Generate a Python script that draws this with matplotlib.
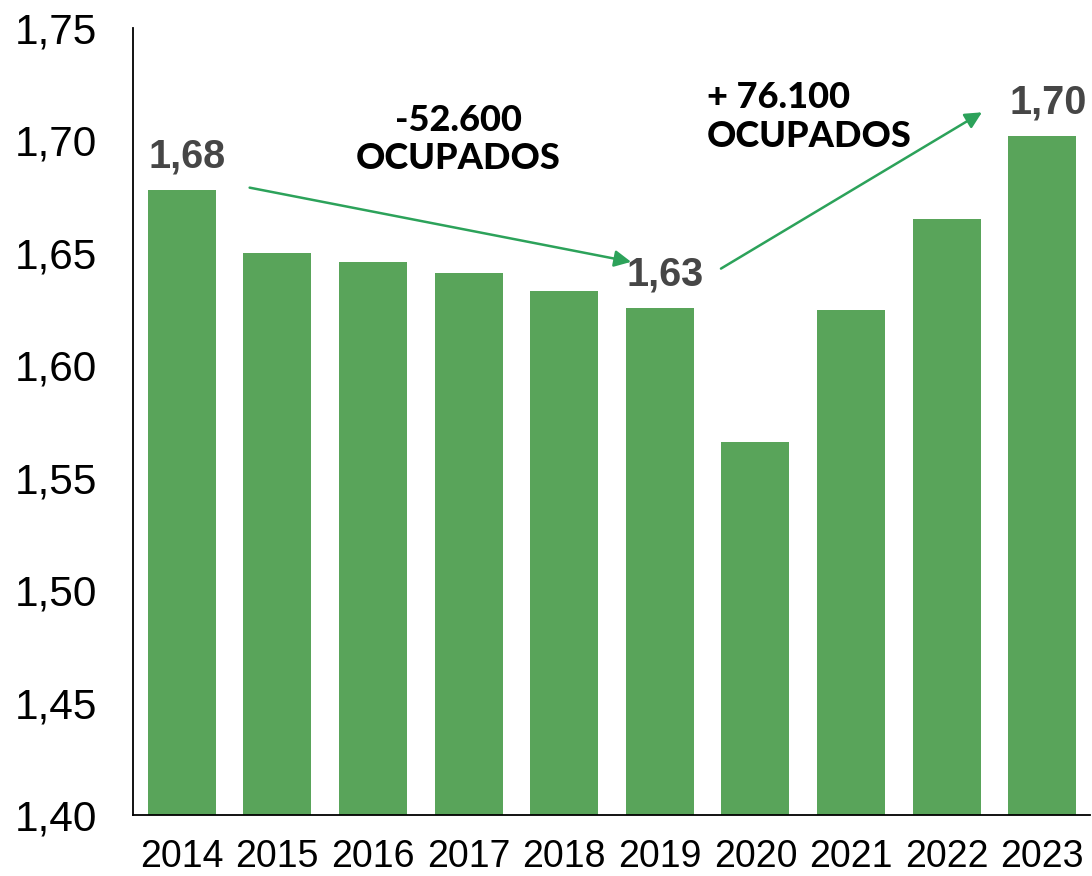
import matplotlib.pyplot as plt

# dados
anos = ['2014', '2015', '2016', '2017', '2018', '2019', '2020', '2021', '2022', '2023']
ocupados = [1.678, 1.650, 1.646, 1.641, 1.633, 1.6255, 1.566, 1.6245, 1.665, 1.702]
rotulos = {0: '1,68', 5: '1,63', 9: '1,70'}
y_ticks = [1.40, 1.45, 1.50, 1.55, 1.60, 1.65, 1.70, 1.75]

verde_barra = '#59A45A'
verde_seta = '#2CA25A'

fig = plt.figure(figsize=(10.92, 8.76), dpi=100)
ax = fig.add_axes([133 / 1092, 61 / 876, 957 / 1092, 787 / 876])

x = range(len(anos))
ax.bar(x, ocupados, width=0.71, color=verde_barra)

ax.set_ylim(1.40, 1.75)
ax.set_xlim(-0.51, 9.5)
ax.set_yticks(y_ticks)
ax.set_yticklabels([f'{v:.2f}'.replace('.', ',') for v in y_ticks],
                   fontsize=30.5, family='Liberation Sans')
ax.set_xticks(list(x))
ax.set_xticklabels(anos, fontsize=27, family='Liberation Sans')
ax.tick_params(axis='y', length=0, pad=26)
ax.tick_params(axis='x', length=0, pad=17)

for s in ['top', 'right']:
    ax.spines[s].set_visible(False)
ax.spines['left'].set_linewidth(1.3)
ax.spines['bottom'].set_linewidth(1.3)

# rótulos das barras
for i, txt in rotulos.items():
    ax.annotate(txt, (i, ocupados[i]), xytext=(4, 24), textcoords='offset points',
                ha='center', va='center', fontsize=28.5, fontweight='bold',
                color='#464646', family='Liberation Sans')

# setas
seta = dict(arrowstyle='-|>', color=verde_seta, lw=1.8, mutation_scale=25,
            shrinkA=0, shrinkB=0)
ax.annotate('', xy=(4.70, 1.646), xytext=(0.71, 1.679), arrowprops=seta)
ax.annotate('', xy=(8.37, 1.7125), xytext=(5.64, 1.643), arrowprops=seta)

ax.text(2.89, 1.7005, '-52.600\nOCUPADOS', ha='center', va='center', fontsize=26,
        fontweight='black', family='Lato', linespacing=1.2)
ax.text(5.49, 1.7105, '+ 76.100\nOCUPADOS', ha='left', va='center', fontsize=26,
        fontweight='black', family='Lato', linespacing=1.2)

plt.savefig('out.png', dpi=100)
